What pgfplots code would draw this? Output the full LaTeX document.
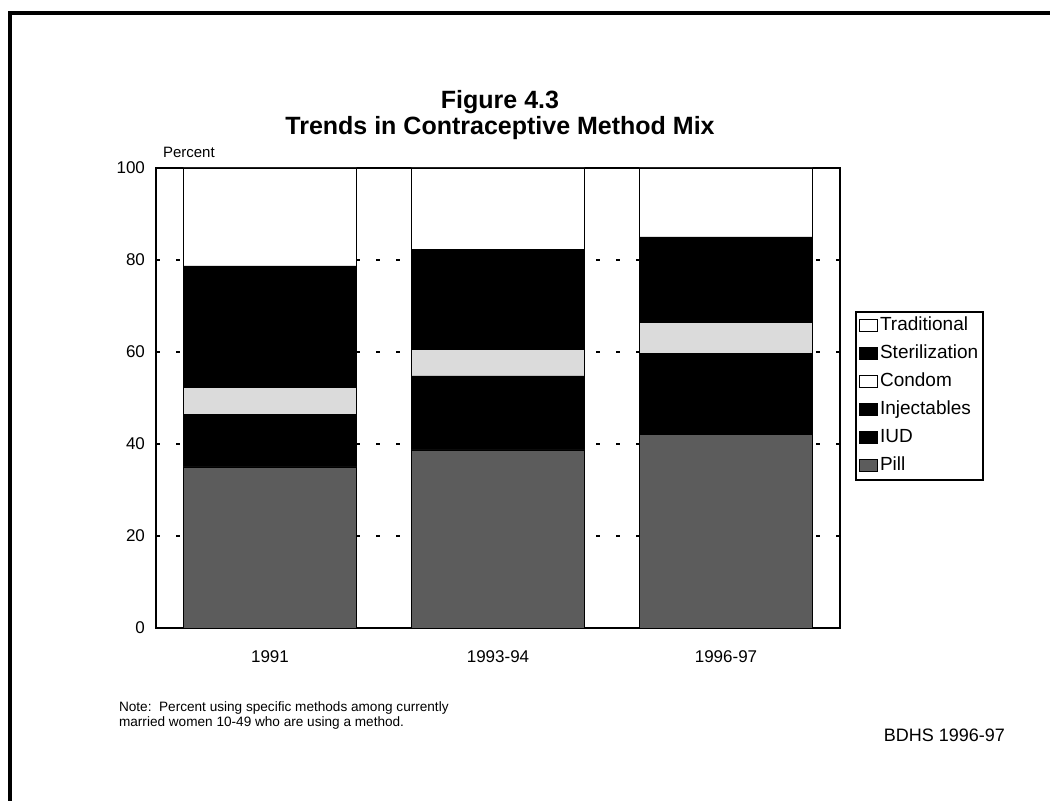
\documentclass[border=0pt]{standalone}
\usepackage{fontspec}
\setmainfont{Liberation Sans}
\usepackage{pgfplots}
\pgfplotsset{compat=1.18}
\begin{document}
\begin{tikzpicture}
\path[use as bounding box] (0,0) rectangle (525pt,400.5pt);
\draw[line width=2pt] (5pt,0) -- (5pt,394pt) -- (525pt,394pt);
\node[font=\bfseries\fontsize{12.5}{13}\selectfont, align=center] at (250pt,343pt) {Figure 4.3\\Trends in Contraceptive Method Mix};
\node[anchor=west, font=\fontsize{7.5}{9}\selectfont] at (78pt,324.5pt) {Percent};
\node[anchor=west, align=left, font=\fontsize{6.8}{7.5}\selectfont] at (56pt,43pt) {Note:\ \ Percent using specific methods among currently\\married women 10-49 who are using a method.};
\node[anchor=east, font=\fontsize{9}{10}\selectfont] at (506pt,33pt) {BDHS 1996-97};
\begin{axis}[
 at={(78pt,86.5pt)}, anchor=south west,
 scale only axis, width=342pt, height=230pt,
 ybar stacked, bar width=0.76,
 xmin=-0.5, xmax=2.5, ymin=0, ymax=100,
 xtick={0,1,2}, xticklabels={1991,1993-94,1996-97},
 ytick={0,20,...,100},
 major tick length=0pt,
 ymajorgrids, grid style={black, line width=0.8pt, dash pattern=on 2pt off 8pt},
 axis line style={line width=0.9pt},
 tick label style={font=\fontsize{8.5}{10}\selectfont},
 /pgf/number format/assume math mode=true,
 xticklabel style={yshift=-8pt},
 yticklabel style={xshift=-2pt},
 legend cell align=left,
 legend style={at={(1.022,0.689)}, anchor=north west, draw=black, line width=0.8pt,
   font=\fontsize{9.5}{11}\selectfont, inner sep=1.5pt, row sep=3pt,
   nodes={inner sep=1pt, text height=7pt, text depth=2pt},
   /tikz/every even column/.append style={column sep=0pt}},
 reverse legend,
 legend image code/.code={\draw[#1,line width=0.6pt] (0pt,-3pt) rectangle (9pt,3pt);},
]
\addplot[fill=black!64, draw=black] coordinates {(0,35.0) (1,38.7) (2,42.0)};
\addplot[fill=black, draw=black] coordinates {(0,4.5) (1,5.0) (2,3.7)};
\addplot[fill=black, draw=black] coordinates {(0,7.0) (1,11.1) (2,13.9)};
\addplot[fill=black!14, draw=black, legend image post style={fill=white}] coordinates {(0,5.7) (1,5.8) (2,6.9)};
\addplot[fill=black, draw=black] coordinates {(0,26.5) (1,21.6) (2,18.5)};
\addplot[fill=white, draw=black] coordinates {(0,21.3) (1,17.8) (2,15.0)};
\legend{Pill,IUD,Injectables,Condom,Sterilization,Traditional}
\end{axis}
\end{tikzpicture}
\end{document}
